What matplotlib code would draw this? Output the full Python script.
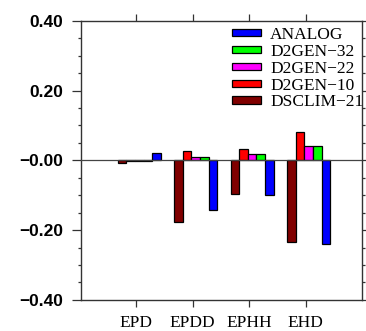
import numpy as np
import matplotlib
matplotlib.use('Agg')
import matplotlib.pyplot as plt
from matplotlib.patches import Patch
from matplotlib.ticker import MultipleLocator

# Data
categories = ['EPD', 'EPDD', 'EPHH', 'EHD']
dsclim_21 = [-0.007, -0.177, -0.096, -0.235]
d2gen_10 = [-0.003, 0.026, 0.033, 0.080]
d2gen_22 = [-0.003, 0.011, 0.018, 0.041]
d2gen_32 = [-0.003, 0.011, 0.017, 0.041]
analog = [0.022, -0.143, -0.099, -0.239]

series = [dsclim_21, d2gen_10, d2gen_22, d2gen_32, analog]
names = ['DSCLIM\u221221', 'D2GEN\u221210', 'D2GEN\u221222', 'D2GEN\u221232', 'ANALOG']
colors = ['#800000', '#ff0000', '#ff00ff', '#00ff00', '#0000ff']
yticks = [-0.4, -0.2, 0.0, 0.2, 0.4]
ytick_labels = ['\u22120.40', '\u22120.20', '\u22120.00', '0.20', '0.40']

fig = plt.figure(figsize=(3.66, 3.31), dpi=100)
ax = fig.add_axes([0.221, 0.094, 0.768, 0.843])

x = np.arange(1, len(categories) + 1)
w = 0.152
shift = 0.055
for i, (vals, c) in enumerate(zip(series, colors)):
    ax.bar(x + (i - 2) * w + shift, vals, width=w, color=c,
           edgecolor='black', linewidth=0.9, zorder=3)

ax.axhline(0, color='#444444', linewidth=0.9, zorder=4)

ax.set_xlim(0.02, 5.0)
ax.set_ylim(-0.4, 0.4)
ax.set_xticks(x)
ax.set_xticklabels(categories, family='Liberation Serif', fontsize=12.5)
ax.set_yticks(yticks)
ax.set_yticklabels(ytick_labels, family='Liberation Sans', fontweight='bold', fontsize=12.5)
ax.yaxis.set_minor_locator(MultipleLocator(0.05))

ax.tick_params(axis='both', which='both', direction='out', top=True, right=True,
               labeltop=False, labelright=False, color='#333333', width=0.9)
ax.tick_params(axis='y', which='major', length=6.5, pad=6)
ax.tick_params(axis='y', which='minor', length=2.5)
ax.tick_params(axis='x', which='major', length=5, pad=6)
for s in ax.spines.values():
    s.set_linewidth(1.0)
    s.set_color('#333333')

handles = [Patch(facecolor=c, edgecolor='black', linewidth=0.9) for c in colors]
leg = ax.legend(handles[::-1], names[::-1], loc='upper right',
                bbox_to_anchor=(1.005, 0.978), frameon=False,
                prop={'family': 'Liberation Serif', 'size': 12.5},
                handlelength=1.65, handleheight=0.28, handletextpad=0.55,
                labelspacing=0.05, borderaxespad=0.0, borderpad=0.0)

fig.savefig('out.png', dpi=100)
